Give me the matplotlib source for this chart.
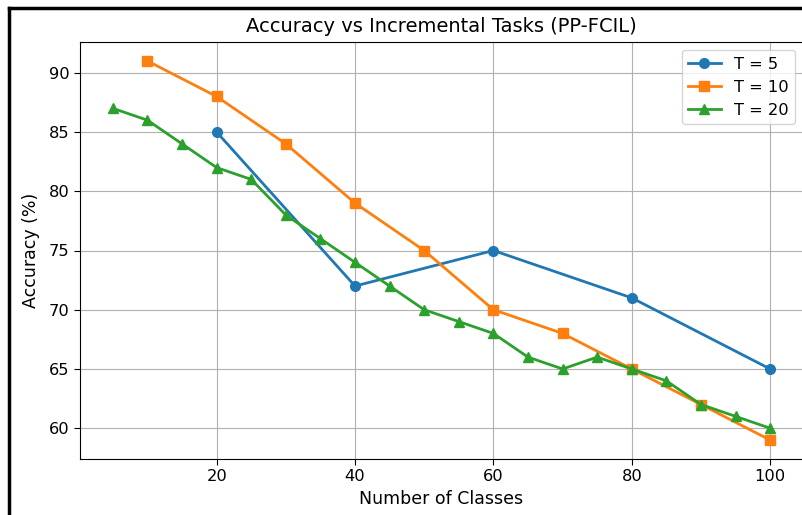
import matplotlib
matplotlib.use("Agg")
import matplotlib.pyplot as plt
from matplotlib.lines import Line2D

x_t5 = [20, 40, 60, 80, 100]
acc_t5 = [85, 72, 75, 71, 65]
x_t10 = [10, 20, 30, 40, 50, 60, 70, 80, 90, 100]
acc_t10 = [91, 88, 84, 79, 75, 70, 68, 65, 62, 59]
x_t20 = [5, 10, 15, 20, 25, 30, 35, 40, 45, 50, 55, 60, 65, 70, 75, 80, 85, 90, 95, 100]
acc_t20 = [87, 86, 84, 82, 81, 78, 76, 74, 72, 70, 69, 68, 66, 65, 66, 65, 64, 62, 61, 60]

fig = plt.figure(figsize=(8.03, 5.15), dpi=100)
ax = fig.add_axes([80 / 803, 56 / 515, 723 / 803, 417 / 515])

ax.plot(x_t5, acc_t5, marker='o', markersize=7, linewidth=2, label='T = 5')
ax.plot(x_t10, acc_t10, marker='s', markersize=7, linewidth=2, label='T = 10')
ax.plot(x_t20, acc_t20, marker='^', markersize=7, linewidth=2, label='T = 20')

ax.set_title('Accuracy vs Incremental Tasks (PP-FCIL)', fontsize=14, pad=7)
ax.set_xlabel('Number of Classes', fontsize=12.5)
ax.set_ylabel('Accuracy (%)', fontsize=12.5, labelpad=6)
ax.tick_params(labelsize=11.7, length=4)
ax.grid(True)
ax.legend(loc='upper right', fontsize=11.7)

# frame of the screenshot (top and left edge)
fig.add_artist(Line2D([9.5 / 803, 9.5 / 803], [0, 1 - 8 / 515], color='black', linewidth=2.5, transform=fig.transFigure))
fig.add_artist(Line2D([9.5 / 803, 1], [1 - 8 / 515, 1 - 8 / 515], color='black', linewidth=2.5, transform=fig.transFigure))

fig.savefig('out.png', dpi=100)
